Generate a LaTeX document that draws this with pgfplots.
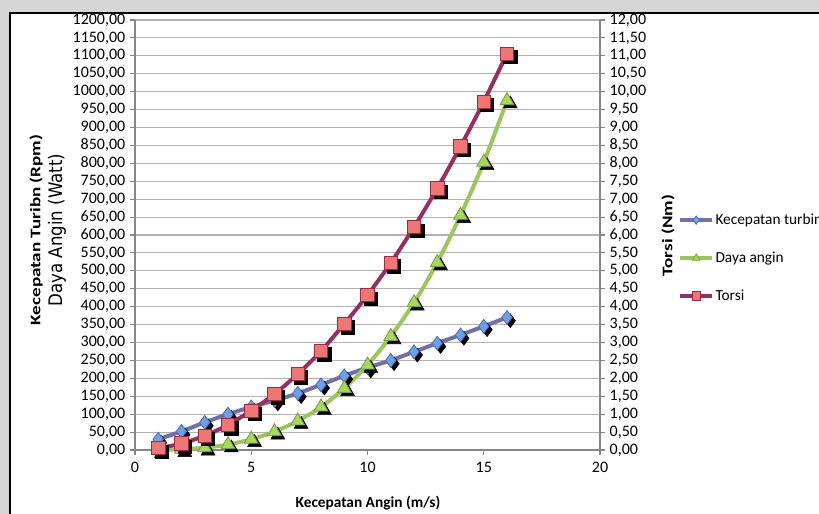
\documentclass[border=0pt]{standalone}
\usepackage{pgfplots}
\pgfplotsset{compat=1.18}
\usepackage{pgfplotstable}
\usepackage{fontspec}
\setmainfont{Carlito}
\newfontfamily\dejavu{DejaVu Sans}
\definecolor{turbinline}{RGB}{112,112,172}
\definecolor{turbinfill}{RGB}{110,160,230}
\definecolor{turbinedge}{RGB}{70,110,190}
\definecolor{dayaline}{RGB}{155,199,90}
\definecolor{dayafill}{RGB}{170,214,92}
\definecolor{dayaedge}{RGB}{118,160,55}
\definecolor{torsiline}{RGB}{150,48,95}
\definecolor{torsifill}{RGB}{240,118,118}
\definecolor{torsiedge}{RGB}{160,40,70}
\definecolor{gridgray}{RGB}{178,178,178}
\definecolor{axisgray}{RGB}{135,135,135}

\pgfplotstableread{
x t d q
1 30 0.24 0.05
2 52 1.9 0.18
3 77 6.4 0.40
4 100 15 0.70
5 120 30 1.10
6 138 51 1.56
7 158 81 2.12
8 182 120 2.76
9 207 172 3.52
10 230 237 4.32
11 250 317 5.22
12 274 411 6.22
13 298 523 7.30
14 321 655 8.47
15 345 803 9.72
16 370 975 11.06
}\datatable

\pgfplotsset{
  shadow/.style={only marks, black, mark options={fill=black, draw=black, xshift=2.5pt, yshift=-2.5pt}},
  common/.style={
    at={(101.25pt,48pt)}, anchor=south west,
    scale only axis, width=348.75pt, height=322.5pt,
    xmin=0, xmax=20,
    tick align=outside, major tick length=3.75pt,
    axis line style={axisgray, line width=0.8pt},
    tick style={axisgray, line width=0.8pt},
    ticklabel style={font=\fontsize{12}{13}\selectfont},
    /pgf/number format/assume math mode=true,
    clip=false,
  },
}

\begin{document}
\begin{tikzpicture}[x=0.75pt,y=0.75pt]
\clip (0,0) rectangle (819,514);
\fill[black!16] (0,0) rectangle (819,514);
\draw[black, line width=1.5pt, fill=white] (10,-30) rectangle (860,501);

\begin{axis}[common,
  ymin=0, ymax=1200,
  xtick={0,5,10,15,20},
  ytick distance=50,
  axis x line*=bottom, axis y line*=left,
  ymajorgrids, grid style={gridgray, line width=0.8pt},
  yticklabel style={/pgf/number format/.cd, fixed, fixed zerofill, precision=2, use comma, 1000 sep={}},
  xticklabel style={yshift=-2pt, /pgf/number format/.cd, fixed, precision=0},
]
\addplot[shadow, mark=diamond*, mark size=5.2pt] table[x=x,y=t]{\datatable};
\addplot[turbinline, line width=3pt, smooth, mark=diamond*, mark size=5.2pt,
  mark options={fill=turbinfill, draw=turbinedge, line width=0.6pt}] table[x=x,y=t]{\datatable};
\addplot[shadow, mark=triangle*, mark size=6pt] table[x=x,y=d]{\datatable};
\addplot[dayaline, line width=3pt, smooth, mark=triangle*, mark size=6pt,
  mark options={fill=dayafill, draw=dayaedge, line width=0.6pt}] table[x=x,y=d]{\datatable};
\end{axis}

\begin{axis}[common,
  ymin=0, ymax=12,
  ytick distance=0.5,
  axis x line=none, axis y line*=right,
  yticklabel style={/pgf/number format/.cd, fixed, fixed zerofill, precision=2, use comma, 1000 sep={}},
  legend style={at={(1.159,0.4465)}, anchor=west, draw=none, fill=none,
    font=\fontsize{11.5}{12}\selectfont, row sep=17pt,
    nodes={inner sep=1pt}},
  legend cell align=left,
  legend image code/.code={\draw[mark repeat=2,mark phase=2,#1] plot coordinates {(0pt,0pt) (12pt,0pt) (24pt,0pt)};},
  legend image post style={mark size=3.2pt},
]
\addlegendimage{turbinline, line width=3pt, mark=diamond*, mark options={fill=turbinfill, draw=turbinedge, line width=0.5pt}}
\addlegendentry{Kecepatan turbin}
\addlegendimage{dayaline, line width=3pt, mark=triangle*, mark options={fill=dayafill, draw=dayaedge, line width=0.5pt}}
\addlegendentry{Daya angin}
\addplot[shadow, mark=square*, mark size=5pt, forget plot] table[x=x,y=q]{\datatable};
\addplot[torsiline, line width=3pt, smooth, mark=square*, mark size=5pt,
  mark options={fill=torsifill, draw=torsiedge, line width=0.6pt}] table[x=x,y=q]{\datatable};
\addlegendentry{Torsi}
\end{axis}

\node[rotate=90] at (36,284) {\scalebox{1.3}[1]{\fontsize{11}{12}\selectfont\bfseries Kecepatan Turibn (Rpm)}};
\node[rotate=90] at (57,284) {\scalebox{0.89}[1]{\dejavu\fontsize{14}{15}\selectfont Daya Angin (Watt)}};
\node[rotate=90] at (668,278.5) {\scalebox{1.3}[1]{\fontsize{11}{12}\selectfont\bfseries Torsi (Nm)}};
\node at (368,11) {\fontsize{11.5}{12}\selectfont\bfseries Kecepatan Angin (m/s)};
\end{tikzpicture}
\end{document}
